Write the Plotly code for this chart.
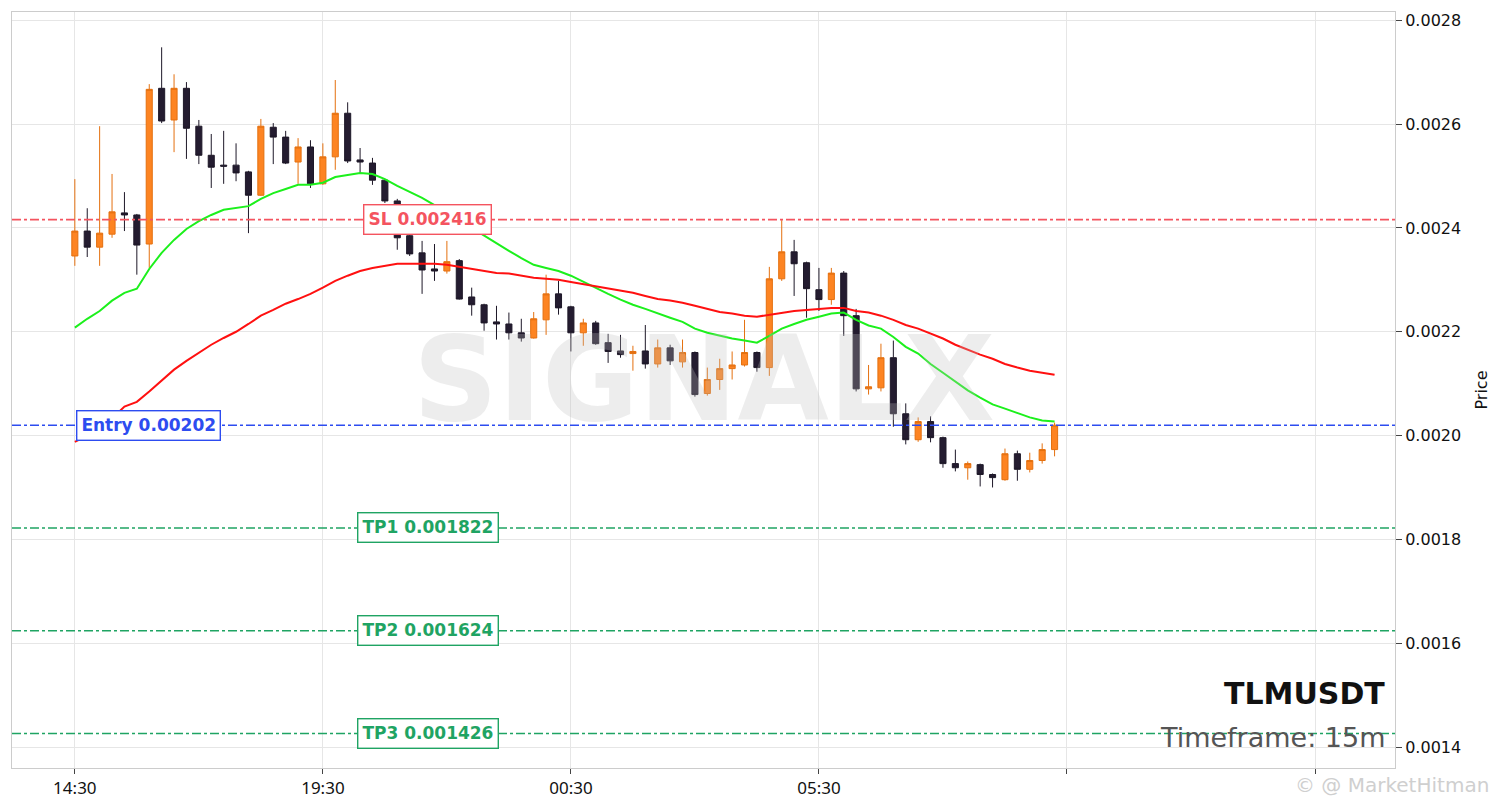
import pandas as pd
import plotly.graph_objects as go

symbol = "TLMUSDT"
timeframe = "15m"
start_time = "2025-01-01 14:30"

opens = [
    0.002346, 0.002394, 0.002363, 0.002388, 0.002429, 0.002425, 0.002369, 0.002669, 0.002608, 0.002669,
    0.002596, 0.002540, 0.002521, 0.002521, 0.002508, 0.002463, 0.002594, 0.002575, 0.002527, 0.002556,
    0.002485, 0.002537, 0.002621, 0.002531, 0.002525, 0.002492, 0.002452, 0.002385, 0.002352, 0.002321,
    0.002317, 0.002337, 0.002267, 0.002252, 0.002219, 0.002215, 0.002198, 0.002188, 0.002223, 0.002273,
    0.002248, 0.002198, 0.002217, 0.002179, 0.002163, 0.002158, 0.002163, 0.002138, 0.002169, 0.002142,
    0.002160, 0.002081, 0.002108, 0.002129, 0.002136, 0.002160, 0.002131, 0.002302, 0.002354, 0.002333,
    0.002281, 0.002262, 0.002313, 0.002231, 0.002090, 0.002092, 0.002150, 0.002042, 0.001992, 0.002027,
    0.001996, 0.001946, 0.001938, 0.001944, 0.001925, 0.001915, 0.001965, 0.001935, 0.001952, 0.001973,
]
highs = [
    0.002494, 0.002438, 0.002596, 0.002504, 0.002469, 0.002427, 0.002677, 0.002748, 0.002696, 0.002681,
    0.002608, 0.002581, 0.002587, 0.002563, 0.002510, 0.002610, 0.002602, 0.002587, 0.002573, 0.002569,
    0.002563, 0.002685, 0.002642, 0.002554, 0.002535, 0.002494, 0.002456, 0.002390, 0.002375, 0.002369,
    0.002375, 0.002340, 0.002285, 0.002254, 0.002250, 0.002237, 0.002225, 0.002238, 0.002310, 0.002298,
    0.002250, 0.002225, 0.002221, 0.002196, 0.002194, 0.002173, 0.002213, 0.002185, 0.002175, 0.002185,
    0.002162, 0.002131, 0.002148, 0.002162, 0.002223, 0.002162, 0.002325, 0.002415, 0.002377, 0.002335,
    0.002323, 0.002323, 0.002317, 0.002244, 0.002136, 0.002177, 0.002183, 0.002062, 0.002035, 0.002037,
    0.001998, 0.001973, 0.001950, 0.001946, 0.001927, 0.001975, 0.001971, 0.001967, 0.001985, 0.002025,
]
lows = [
    0.002327, 0.002344, 0.002327, 0.002381, 0.002394, 0.002310, 0.002323, 0.002602, 0.002546, 0.002533,
    0.002523, 0.002477, 0.002485, 0.002490, 0.002390, 0.002462, 0.002523, 0.002523, 0.002485, 0.002477,
    0.002483, 0.002512, 0.002525, 0.002504, 0.002483, 0.002448, 0.002358, 0.002346, 0.002273, 0.002298,
    0.002312, 0.002262, 0.002231, 0.002202, 0.002185, 0.002185, 0.002181, 0.002187, 0.002194, 0.002233,
    0.002162, 0.002173, 0.002175, 0.002140, 0.002150, 0.002125, 0.002129, 0.002131, 0.002136, 0.002131,
    0.002075, 0.002077, 0.002088, 0.002108, 0.002133, 0.002123, 0.002115, 0.002298, 0.002269, 0.002227,
    0.002240, 0.002252, 0.002192, 0.002085, 0.002079, 0.002085, 0.002017, 0.001983, 0.001988, 0.001987,
    0.001938, 0.001931, 0.001915, 0.001902, 0.001900, 0.001913, 0.001913, 0.001929, 0.001946, 0.001960,
]
closes = [
    0.002394, 0.002363, 0.002390, 0.002431, 0.002425, 0.002367, 0.002667, 0.002606, 0.002669, 0.002592,
    0.002540, 0.002517, 0.002519, 0.002506, 0.002463, 0.002596, 0.002575, 0.002525, 0.002556, 0.002485,
    0.002537, 0.002621, 0.002529, 0.002527, 0.002492, 0.002452, 0.002381, 0.002350, 0.002319, 0.002317,
    0.002335, 0.002263, 0.002252, 0.002217, 0.002215, 0.002198, 0.002188, 0.002225, 0.002273, 0.002246,
    0.002198, 0.002217, 0.002177, 0.002162, 0.002156, 0.002162, 0.002138, 0.002169, 0.002144, 0.002160,
    0.002079, 0.002108, 0.002129, 0.002136, 0.002160, 0.002131, 0.002302, 0.002354, 0.002331, 0.002283,
    0.002262, 0.002313, 0.002231, 0.002090, 0.002094, 0.002150, 0.002042, 0.001992, 0.002027, 0.001996,
    0.001946, 0.001938, 0.001946, 0.001925, 0.001919, 0.001965, 0.001935, 0.001952, 0.001973, 0.002020,
]
ema_fast = [
    0.002208, 0.002225, 0.002240, 0.002260, 0.002275, 0.002283, 0.002321, 0.002352, 0.002377, 0.002398,
    0.002413, 0.002425, 0.002435, 0.002438, 0.002442, 0.002456, 0.002467, 0.002475, 0.002483, 0.002483,
    0.002487, 0.002498, 0.002502, 0.002506, 0.002504, 0.002494, 0.002481, 0.002469, 0.002458, 0.002444,
    0.002429, 0.002413, 0.002400, 0.002385, 0.002371, 0.002356, 0.002342, 0.002329, 0.002323, 0.002317,
    0.002308, 0.002296, 0.002285, 0.002273, 0.002262, 0.002252, 0.002244, 0.002235, 0.002227, 0.002219,
    0.002206, 0.002198, 0.002192, 0.002187, 0.002183, 0.002179, 0.002192, 0.002206, 0.002215, 0.002223,
    0.002229, 0.002235, 0.002237, 0.002223, 0.002212, 0.002206, 0.002190, 0.002171, 0.002158, 0.002138,
    0.002121, 0.002104, 0.002087, 0.002073, 0.002060, 0.002052, 0.002044, 0.002035, 0.002029, 0.002027,
]
ema_slow = [
    0.001988, 0.002000, 0.002015, 0.002033, 0.002056, 0.002065, 0.002085, 0.002106, 0.002127, 0.002144,
    0.002160, 0.002175, 0.002188, 0.002200, 0.002215, 0.002231, 0.002242, 0.002254, 0.002263, 0.002273,
    0.002285, 0.002298, 0.002308, 0.002317, 0.002323, 0.002327, 0.002331, 0.002331, 0.002331, 0.002331,
    0.002329, 0.002325, 0.002321, 0.002317, 0.002313, 0.002312, 0.002308, 0.002304, 0.002302, 0.002300,
    0.002296, 0.002292, 0.002288, 0.002283, 0.002279, 0.002275, 0.002269, 0.002263, 0.002260, 0.002256,
    0.002250, 0.002244, 0.002238, 0.002235, 0.002231, 0.002229, 0.002233, 0.002237, 0.002240, 0.002242,
    0.002244, 0.002246, 0.002246, 0.002240, 0.002237, 0.002231, 0.002223, 0.002213, 0.002206, 0.002196,
    0.002187, 0.002175, 0.002165, 0.002156, 0.002148, 0.002138, 0.002131, 0.002125, 0.002121, 0.002117,
]

entry_price = 0.00202
stop_loss = 0.002416
take_profits = [0.001822, 0.001624, 0.001426]
tp_names = ["TP1", "TP2", "TP3"]

tick_times = ["2025-01-01 14:30", "2025-01-01 19:30", "2025-01-02 00:30",
              "2025-01-02 05:30", "2025-01-02 10:30", "2025-01-02 15:30"]
tick_labels = ["14:30", "19:30", "00:30", "05:30", "", ""]
y_ticks = [0.0014, 0.0016, 0.0018, 0.0020, 0.0022, 0.0024, 0.0026, 0.0028]

times = pd.date_range(start_time, periods=len(closes), freq="15min")
x_start = times[0] - pd.Timedelta(minutes=76)
x_end = times[0] + pd.Timedelta(minutes=15 * 106.45)

SL_C = "#f4545f"
EN_C = "#2d4cf0"
TP_C = "#1fa463"

fig = go.Figure()
fig.add_trace(go.Candlestick(
    x=times, open=opens, high=highs, low=lows, close=closes,
    increasing=dict(line=dict(color="#e4700f", width=1), fillcolor="#fd8422"),
    decreasing=dict(line=dict(color="#1e1828", width=1), fillcolor="#241c30"),
    whiskerwidth=0, name=symbol,
))
fig.add_trace(go.Scatter(x=times, y=ema_fast, mode="lines",
                         line=dict(color="#1cf01c", width=2), name="EMA fast"))
fig.add_trace(go.Scatter(x=times, y=ema_slow, mode="lines",
                         line=dict(color="#ff1010", width=2), name="EMA slow"))

shapes = []
annotations = []


def level(y, color):
    shapes.append(dict(type="line", xref="paper", x0=0, x1=1, yref="y", y0=y, y1=y,
                       line=dict(color=color, width=1.6, dash="dashdot"), layer="above"))


def label(text, y, color, x, xref, xanchor, xshift=0):
    annotations.append(dict(
        text="<b>%s</b>" % text, x=x, xref=xref, y=y, yref="y", xanchor=xanchor,
        yanchor="middle", showarrow=False, xshift=xshift,
        font=dict(family="DejaVu Sans", size=17, color=color),
        bgcolor="white", bordercolor=color, borderwidth=1.4, borderpad=4,
    ))


level(stop_loss, SL_C)
level(entry_price, EN_C)
for tp in take_profits:
    level(tp, TP_C)

label("SL %g" % stop_loss, stop_loss, SL_C, 0.3005, "paper", "center")
label("Entry %g" % entry_price, entry_price, EN_C, times[0], "x", "left", 1)
for name, tp in zip(tp_names, take_profits):
    label("%s %g" % (name, tp), tp, TP_C, 0.3005, "paper", "center")

annotations.append(dict(text="<b>SIGNALX</b>", x=0.5, y=0.515, xref="paper", yref="paper",
                        showarrow=False, xanchor="center", yanchor="middle",
                        font=dict(family="DejaVu Sans", size=118, color="rgba(190,190,190,0.28)")))
annotations.append(dict(text="<b>%s</b>" % symbol, x=0.9942, y=0.099, xref="paper", yref="paper",
                        showarrow=False, xanchor="right", yanchor="middle",
                        font=dict(family="DejaVu Sans", size=30, color="#111111")))
annotations.append(dict(text="Timeframe: %s" % timeframe, x=0.9942, y=0.041, xref="paper", yref="paper",
                        showarrow=False, xanchor="right", yanchor="middle",
                        font=dict(family="DejaVu Sans", size=27, color="#555555")))
annotations.append(dict(text="© @ MarketHitman", x=1.0695, y=-0.022, xref="paper", yref="paper",
                        showarrow=False, xanchor="right", yanchor="middle",
                        font=dict(family="DejaVu Sans", size=20, color="#cfcfcf")))

fig.update_layout(
    width=1501, height=808,
    margin=dict(l=4, r=114, t=4, b=48),
    plot_bgcolor="white", paper_bgcolor="white",
    showlegend=False,
    font=dict(family="DejaVu Sans", color="#111111"),
    shapes=shapes, annotations=annotations,
    hovermode=False,
)
fig.update_xaxes(
    type="date", range=[x_start, x_end],
    tickvals=tick_times, ticktext=tick_labels,
    showgrid=True, gridcolor="#e6e6e6", gridwidth=1,
    ticks="outside", ticklen=5, tickcolor="#444444",
    showline=True, linecolor="#cccccc", linewidth=1, mirror=True,
    tickfont=dict(family="Noto Sans", size=17, color="#111111"),
    rangeslider=dict(visible=False), zeroline=False,
)
fig.update_yaxes(
    side="right", range=[0.0013596, 0.0028160],
    tickvals=y_ticks, tickformat=".4f",
    showgrid=True, gridcolor="#e6e6e6", gridwidth=1,
    ticks="outside", ticklen=6, tickcolor="#444444",
    showline=True, linecolor="#cccccc", linewidth=1, mirror=True,
    tickfont=dict(family="DejaVu Sans", size=16, color="#111111"),
    title=dict(text="Price", font=dict(family="DejaVu Sans", size=16, color="#111111"), standoff=15),
    zeroline=False,
)

fig.write_html("out.html")
